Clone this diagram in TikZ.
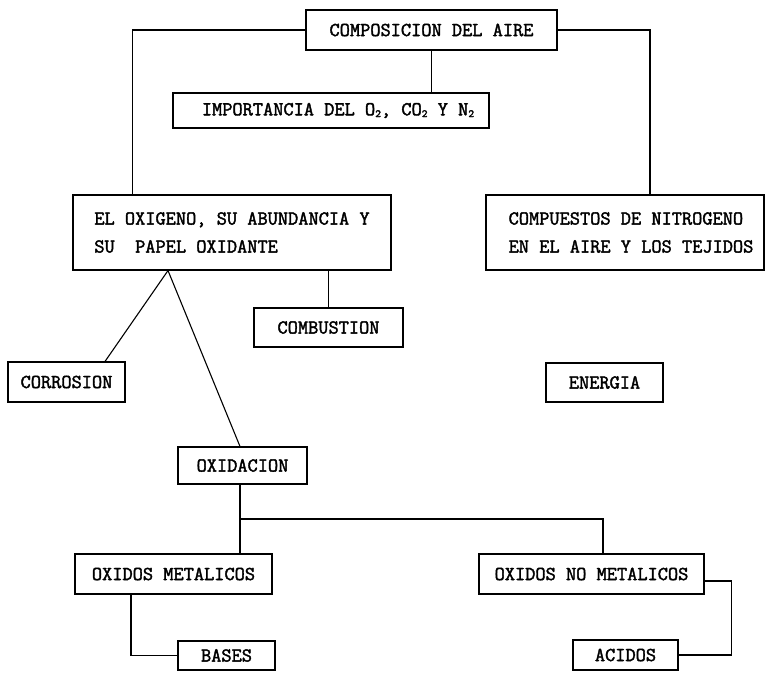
\documentclass[tikz,border=0pt]{standalone}
\usepackage{fontspec}
\usetikzlibrary{calc}
\newfontfamily\typewriter[FakeBold=2]{Latin Modern Mono}
\newcommand\smalltwo{\raisebox{-0.2ex}{\fontsize{11}{11}\selectfont 2}}
\tikzset{
  box/.style={draw, line width=1.1pt, inner sep=0pt, font=\typewriter\fontsize{19.8}{28}\selectfont},
  link/.style={line width=1.1pt}
}
\begin{document}
\begin{tikzpicture}[x=1pt,y=-1pt]
\useasboundingbox (0,0) rectangle (766,673);
% boxes
\node[box, minimum width=251pt, minimum height=40pt] (comp) at (431.5,30) {COMPOSICION DEL AIRE};
\node[box, minimum width=316pt, minimum height=35pt] (imp) at (331,110.5) {\hspace*{14pt}IMPORTANCIA DEL O\smalltwo, CO\smalltwo{} Y N\smalltwo};
\node[box, minimum width=318pt, minimum height=75pt, align=left] (oxi) at (232,232.5) {EL OXIGENO, SU ABUNDANCIA Y\\SU\ \ PAPEL OXIDANTE};
\node[box, minimum width=278pt, minimum height=75pt, align=left] (cpn) at (625,232.5) {\hspace*{12pt}COMPUESTOS DE NITROGENO\\\hspace*{12pt}EN EL AIRE Y LOS TEJIDOS};
\node[box, minimum width=149pt, minimum height=39pt] (comb) at (328.5,327.5) {COMBUSTION};
\node[box, minimum width=117pt, minimum height=40pt] (corr) at (66.5,382) {CORROSION};
\node[box, minimum width=117pt, minimum height=39pt] (ener) at (604.5,382.5) {ENERGIA};
\node[box, minimum width=129pt, minimum height=37pt] (oxd) at (242.5,465.5) {OXIDACION};
\node[box, minimum width=197pt, minimum height=40pt] (om) at (173.5,574) {OXIDOS METALICOS};
\node[box, minimum width=225pt, minimum height=40pt] (onm) at (591.5,574) {OXIDOS NO METALICOS};
\node[box, minimum width=97pt, minimum height=29pt] (bas) at (226.5,655.5) {BASES};
\node[box, minimum width=105pt, minimum height=30pt] (aci) at (625.5,655) {ACIDOS};
% connectors
\draw[link] (comp.south) -- (comp.south |- imp.north);
\draw[link] (comp.west) -| ([xshift=60pt]oxi.north west);
\draw[link] (comp.east) -| ([xshift=25pt]cpn.north);
\draw[link] (comb.north |- oxi.south) -- (comb.north);
\draw[link] ([xshift=-64pt]oxi.south) -- ([xshift=38.5pt]corr.north);
\draw[link] ([xshift=-64pt]oxi.south) -- ([xshift=-2.5pt]oxd.north);
\draw[link] ([xshift=-2.5pt]oxd.south) -- ([xshift=66.5pt]om.north);
\coordinate (br) at ($([xshift=-2.5pt]oxd.south)!0.5!([xshift=66.5pt]om.north)$);
\draw[link] (br) -| ([xshift=11.5pt]onm.north);
\draw[link] ([xshift=-42.5pt]om.south) |- (bas.west);
\draw[link] ([yshift=-7pt]onm.east) -- ++(27,0) |- (aci.east);
\end{tikzpicture}
\end{document}
